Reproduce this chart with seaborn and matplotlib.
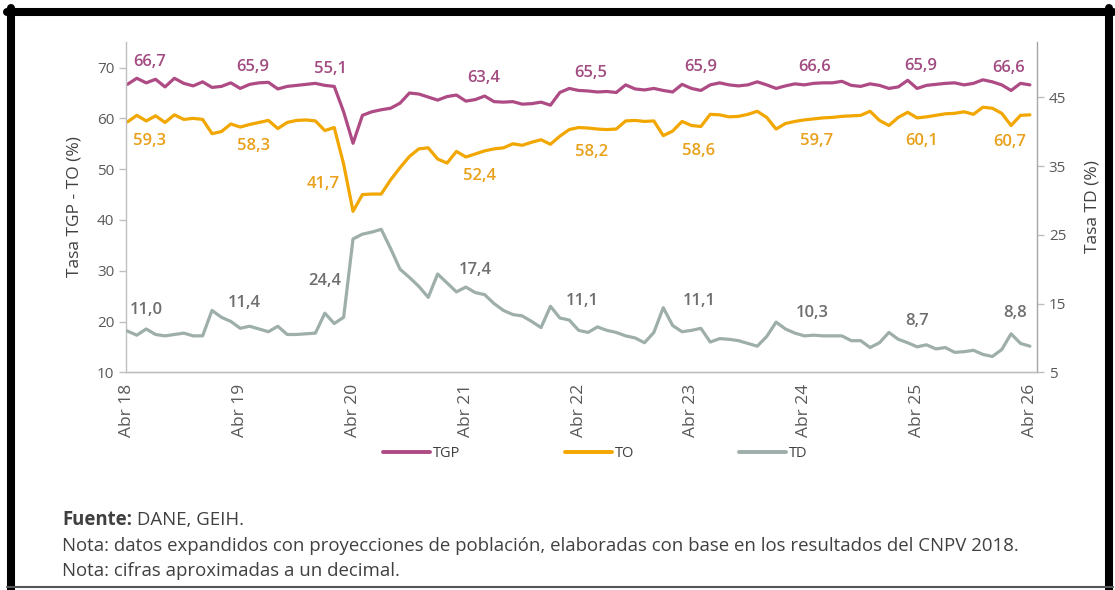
import numpy as np
import pandas as pd
import matplotlib
matplotlib.use('Agg')
import matplotlib.pyplot as plt
import seaborn as sns
from matplotlib.lines import Line2D

# ============================================================================
# Data: monthly rates, Apr 2018 - Apr 2026
# ============================================================================

tgp = [66.7, 67.9, 67.0, 67.7, 66.2, 67.9, 66.9, 66.4, 67.2, 66.1, 66.3, 67.0,
       65.9, 66.7, 67.0, 67.1, 65.8, 66.3, 66.5, 66.7, 66.9, 66.5, 66.3, 61.3,
       55.1, 60.6, 61.3, 61.7, 62.0, 63.0, 65.0, 64.8, 64.2, 63.6, 64.3, 64.6,
       63.4, 63.7, 64.4, 63.3, 63.2, 63.3, 62.8, 62.9, 63.2, 62.6, 65.1, 65.9,
       65.5, 65.4, 65.2, 65.3, 65.1, 66.6, 65.8, 65.6, 65.9, 65.5, 65.2, 66.7,
       65.9, 65.5, 66.6, 67.0, 66.6, 66.4, 66.6, 67.2, 66.6, 65.9, 66.4, 66.8,
       66.6, 66.9, 67.0, 67.0, 67.3, 66.5, 66.3, 66.8, 66.5, 65.9, 66.2, 67.5,
       65.9, 66.5, 66.7, 66.9, 67.0, 66.6, 66.9, 67.6, 67.2, 66.6, 65.5, 66.9,
       66.6]

to = [59.3, 60.6, 59.5, 60.5, 59.2, 60.7, 59.8, 60.0, 59.8, 57.0, 57.4, 58.9,
      58.3, 58.8, 59.2, 59.6, 58.0, 59.2, 59.6, 59.7, 59.5, 57.6, 58.2, 51.0,
      41.7, 45.0, 45.1, 45.1, 47.9, 50.3, 52.5, 54.0, 54.2, 52.0, 51.2, 53.5,
      52.4, 53.0, 53.6, 54.0, 54.2, 55.0, 54.7, 55.3, 55.8, 54.9, 56.5, 57.8,
      58.2, 58.1, 57.9, 57.8, 57.9, 59.5, 59.6, 59.4, 59.5, 56.6, 57.5, 59.4,
      58.6, 58.4, 60.8, 60.7, 60.3, 60.4, 60.8, 61.4, 60.2, 57.9, 59.0, 59.4,
      59.7, 59.9, 60.1, 60.2, 60.4, 60.5, 60.6, 61.4, 59.6, 58.6, 60.2, 61.2,
      60.1, 60.3, 60.6, 60.9, 61.0, 61.3, 60.8, 62.2, 62.0, 61.0, 58.6, 60.6,
      60.7]

td = [11.0, 10.4, 11.3, 10.5, 10.3, 10.5, 10.7, 10.3, 10.3, 14.0, 13.0, 12.4,
      11.4, 11.7, 11.3, 10.9, 11.7, 10.5, 10.5, 10.6, 10.7, 13.6, 12.1, 13.0,
      24.4, 25.1, 25.4, 25.8, 23.0, 20.0, 18.8, 17.5, 15.9, 19.3, 18.0, 16.7,
      17.4, 16.6, 16.3, 15.0, 14.0, 13.4, 13.2, 12.4, 11.5, 14.6, 12.9, 12.6,
      11.1, 10.8, 11.6, 11.1, 10.8, 10.3, 10.0, 9.3, 10.8, 14.4, 11.8, 10.9,
      11.1, 11.4, 9.4, 9.9, 9.8, 9.6, 9.2, 8.8, 10.2, 12.3, 11.3, 10.7,
      10.3, 10.4, 10.3, 10.3, 10.3, 9.6, 9.6, 8.6, 9.3, 10.8, 9.8, 9.3,
      8.7, 9.0, 8.4, 8.6, 7.9, 8.0, 8.2, 7.6, 7.3, 8.3, 10.6, 9.2,
      8.8]

years = ['18', '19', '20', '21', '22', '23', '24', '25', '26']
tick_labels = ['Abr ' + y for y in years]

df = pd.DataFrame({'mes': np.arange(len(tgp)), 'TGP': tgp, 'TO': to, 'TD': td})
april_idx = list(range(0, len(tgp), 12))

# label offsets (pixels) for the April annotations
tgp_off = [(22, 22), (13, 21), (-23, 74), (18, 23), (12, 17), (9, 21), (10, 18), (4, 22), (-21, 17)]
to_off = [(22, -19), (13, -19), (-30, 27), (14, -19), (13, -24), (7, -26), (12, -21), (5, -23), (-20, -27)]
td_off = [(19, 21), (4, 25), (-28, -42), (9, 17), (4, 29), (8, 29), (8, 23), (0, 26), (-15, 33)]

# ============================================================================
# Style
# ============================================================================
sns.set_style('white')
plt.rcParams['font.family'] = ['Open Sans', 'DejaVu Sans']

c_tgp, c_to, c_td = '#AE4A84', '#F2A600', '#9EAEAA'
c_tgp_txt, c_to_txt, c_td_txt = '#A24C82', '#E9A01A', '#6E6E6E'
c_axis = '#BFBFBF'
c_tick = '#595959'
c_text = '#404040'

fig = plt.figure(figsize=(11.15, 5.9), dpi=100)
ax = fig.add_axes([0.1130, 0.3690, 0.8170, 0.5603])
ax2 = ax.twinx()

sns.lineplot(data=df, x='mes', y='TGP', color=c_tgp, lw=2.3, ax=ax)
sns.lineplot(data=df, x='mes', y='TO', color=c_to, lw=2.3, ax=ax)
sns.lineplot(data=df, x='mes', y='TD', color=c_td, lw=2.3, ax=ax2)

ax.set_xlim(-0.15, 96.75)
ax.set_ylim(10, 75.1)
ax2.set_ylim(5, 53.1)
ax.set_yticks([10, 20, 30, 40, 50, 60, 70])
ax2.set_yticks([5, 15, 25, 35, 45])
ax.set_xticks(april_idx)
ax.set_xticklabels(tick_labels, rotation=90)

for a in (ax, ax2):
    a.set_xlabel('')
    a.spines['top'].set_visible(False)
    for s in ('left', 'right', 'bottom'):
        a.spines[s].set_color(c_axis)
        a.spines[s].set_linewidth(1.0)
    a.tick_params(axis='both', colors=c_axis, labelcolor=c_tick, labelsize=11,
                  length=5, width=1.0, direction='out')
ax.tick_params(axis='x', labelsize=12.5)
ax2.spines['left'].set_visible(False)
ax.spines['right'].set_visible(False)
ax2.spines['right'].set_color('#A6A6A6')

ax.set_ylabel('Tasa TGP - TO (%)', fontsize=12.5, color=c_text, labelpad=10)
ax2.set_ylabel('Tasa TD (%)', fontsize=12.5, color=c_text, labelpad=13)

# annotations on April values
def fmt(v):
    return f'{v:.1f}'.replace('.', ',')

lab_kw = dict(textcoords='offset pixels', ha='center', va='center',
              fontsize=12, fontweight='semibold')
for k, i in enumerate(april_idx):
    ax.annotate(fmt(tgp[i]), (i, tgp[i]), xytext=tgp_off[k], color=c_tgp_txt, **lab_kw)
    ax.annotate(fmt(to[i]), (i, to[i]), xytext=to_off[k], color=c_to_txt, **lab_kw)
    ax2.annotate(fmt(td[i]), (i, td[i]), xytext=td_off[k], color=c_td_txt, **lab_kw)

# legend
handles = [Line2D([], [], color=c, lw=2.8) for c in (c_tgp, c_to, c_td)]
fig.legend(handles, ['TGP', 'TO', 'TD'], loc='center', bbox_to_anchor=(0.534, 0.232),
           ncol=3, frameon=False, fontsize=10.5, handlelength=3.2, handletextpad=0.2,
           columnspacing=7.2, labelcolor=c_text)

# footnotes
x0 = 62 / 1115
t_f = fig.text(x0, 1 - 520 / 590, 'Fuente:', fontsize=13.4, fontweight='bold',
               color=c_text, va='center')
fig.canvas.draw()
bb = t_f.get_window_extent(fig.canvas.get_renderer())
fig.text(bb.x1 / fig.bbox.width, 1 - 520 / 590, ' DANE, GEIH.', fontsize=13.4,
         color=c_text, va='center')
fig.text(x0, 1 - 546 / 590,
         'Nota: datos expandidos con proyecciones de población, elaboradas con base en los resultados del CNPV 2018.',
         fontsize=13.4, color=c_text, va='center')
fig.text(x0, 1 - 571 / 590, 'Nota: cifras aproximadas a un decimal.', fontsize=13.4,
         color=c_text, va='center')

# outer black frame
W, H = 1115, 590
fig.add_artist(Line2D([11 / W, 11 / W], [0, 1 - 8 / H], color='black', lw=5.8, transform=fig.transFigure))
fig.add_artist(Line2D([7 / W, 1113 / W], [1 - 12 / H, 1 - 12 / H], color='black', lw=5.8, transform=fig.transFigure))
fig.add_artist(Line2D([1109 / W, 1109 / W], [0, 1 - 8 / H], color='black', lw=5.8, transform=fig.transFigure))
fig.add_artist(Line2D([7 / W, 1113 / W], [3 / H, 3 / H], color='#555555', lw=1.5, transform=fig.transFigure))

fig.savefig('out.png', dpi=100, facecolor='white')
